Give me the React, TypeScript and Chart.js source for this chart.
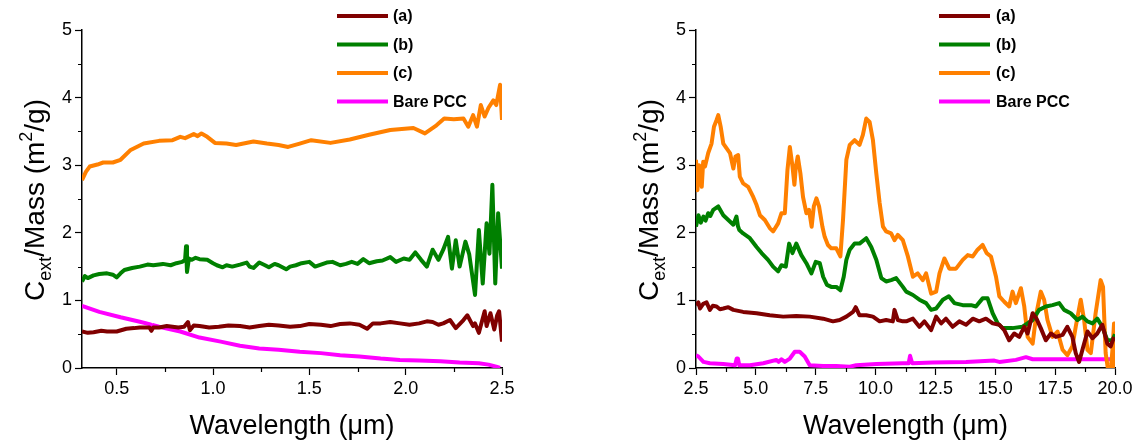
import React, { useEffect, useRef } from "react";
import { Chart, registerables } from "chart.js";

Chart.register(...registerables);

type Pt = [number, number];

// ---------- Left panel (0.32–2.5 µm) ----------
const visA: Pt[] = [[0.32,0.54],[0.35,0.52],[0.38,0.53],[0.42,0.55],[0.45,0.54],[0.50,0.54],[0.55,0.58],[0.59,0.59],[0.62,0.60],[0.67,0.60],[0.68,0.55],[0.69,0.60],[0.72,0.60],[0.76,0.62],[0.79,0.61],[0.82,0.60],[0.85,0.61],[0.87,0.68],[0.88,0.56],[0.90,0.63],[0.93,0.62],[0.98,0.60],[1.03,0.61],[1.08,0.63],[1.14,0.62],[1.19,0.60],[1.24,0.62],[1.29,0.64],[1.34,0.63],[1.40,0.61],[1.45,0.62],[1.50,0.65],[1.56,0.64],[1.61,0.62],[1.66,0.65],[1.71,0.66],[1.76,0.64],[1.80,0.58],[1.83,0.66],[1.87,0.66],[1.92,0.68],[1.97,0.66],[2.02,0.64],[2.07,0.66],[2.11,0.69],[2.14,0.68],[2.17,0.64],[2.195,0.66],[2.23,0.71],[2.26,0.59],[2.30,0.71],[2.32,0.78],[2.35,0.62],[2.36,0.66],[2.38,0.52],[2.41,0.84],[2.42,0.62],[2.44,0.81],[2.46,0.57],[2.475,0.78],[2.485,0.84],[2.50,0.39]];
const visB: Pt[] = [[0.32,1.28],[0.335,1.36],[0.35,1.33],[0.38,1.37],[0.41,1.39],[0.45,1.40],[0.48,1.38],[0.50,1.34],[0.52,1.40],[0.54,1.45],[0.58,1.48],[0.62,1.50],[0.66,1.53],[0.69,1.52],[0.74,1.54],[0.78,1.52],[0.81,1.55],[0.84,1.57],[0.855,1.60],[0.86,1.80],[0.865,1.42],[0.875,1.62],[0.89,1.60],[0.91,1.63],[0.93,1.61],[0.97,1.60],[1.00,1.55],[1.02,1.52],[1.05,1.49],[1.07,1.52],[1.10,1.50],[1.14,1.53],[1.175,1.56],[1.19,1.50],[1.21,1.48],[1.24,1.56],[1.27,1.52],[1.29,1.49],[1.32,1.54],[1.34,1.52],[1.38,1.46],[1.40,1.50],[1.43,1.52],[1.46,1.55],[1.50,1.57],[1.53,1.50],[1.56,1.53],[1.59,1.56],[1.62,1.57],[1.66,1.52],[1.69,1.54],[1.72,1.57],[1.75,1.54],[1.78,1.61],[1.81,1.55],[1.85,1.58],[1.88,1.59],[1.92,1.64],[1.95,1.57],[1.99,1.62],[2.02,1.60],[2.05,1.71],[2.08,1.60],[2.11,1.50],[2.14,1.75],[2.17,1.60],[2.195,1.75],[2.22,1.94],[2.24,1.47],[2.26,1.89],[2.28,1.50],[2.31,1.87],[2.33,1.68],[2.36,1.08],[2.38,2.04],[2.40,1.25],[2.42,2.14],[2.435,1.69],[2.45,2.71],[2.465,1.25],[2.48,2.29],[2.50,1.47]];
const visC: Pt[] = [[0.32,2.78],[0.34,2.90],[0.36,2.98],[0.40,3.01],[0.43,3.04],[0.48,3.04],[0.52,3.08],[0.57,3.22],[0.64,3.32],[0.72,3.36],[0.79,3.37],[0.83,3.42],[0.855,3.40],[0.90,3.46],[0.92,3.43],[0.94,3.47],[0.97,3.42],[1.01,3.33],[1.07,3.32],[1.12,3.30],[1.21,3.35],[1.28,3.32],[1.34,3.30],[1.39,3.27],[1.45,3.32],[1.51,3.37],[1.61,3.33],[1.71,3.38],[1.81,3.45],[1.92,3.52],[2.04,3.55],[2.10,3.47],[2.16,3.59],[2.20,3.69],[2.25,3.68],[2.30,3.69],[2.325,3.57],[2.35,3.74],[2.37,3.57],[2.39,3.89],[2.41,3.72],[2.43,3.85],[2.455,3.96],[2.47,3.89],[2.49,4.19],[2.50,3.67]];
const visP: Pt[] = [[0.32,0.92],[0.41,0.83],[0.52,0.75],[0.62,0.685],[0.675,0.645],[0.68,0.62],[0.69,0.635],[0.72,0.61],[0.83,0.54],[0.93,0.45],[1.04,0.39],[1.14,0.33],[1.24,0.29],[1.34,0.27],[1.45,0.24],[1.56,0.22],[1.66,0.19],[1.76,0.17],[1.87,0.14],[1.97,0.12],[2.07,0.11],[2.18,0.10],[2.28,0.08],[2.38,0.07],[2.43,0.05],[2.47,0.02],[2.49,0.00]];

// ---------- Right panel (2.5–20 µm) ----------
const irA: Pt[] = [[2.5,0.93],[2.6,0.97],[2.67,0.88],[2.8,0.95],[2.94,0.97],[3.08,0.86],[3.2,0.92],[3.36,0.91],[3.5,0.87],[3.64,0.88],[3.85,0.9],[4.06,0.86],[4.47,0.83],[5.03,0.81],[5.58,0.78],[6.14,0.76],[6.69,0.77],[7.25,0.76],[7.81,0.73],[8.22,0.69],[8.5,0.71],[8.78,0.76],[9.06,0.83],[9.17,0.90],[9.33,0.78],[9.61,0.78],[9.89,0.76],[10.17,0.69],[10.44,0.71],[10.72,0.69],[10.79,0.86],[10.93,0.71],[11.14,0.69],[11.28,0.69],[11.56,0.73],[11.83,0.61],[12.04,0.69],[12.32,0.56],[12.53,0.76],[12.74,0.66],[12.94,0.73],[13.22,0.61],[13.5,0.69],[13.78,0.64],[14.06,0.73],[14.33,0.69],[14.61,0.73],[14.89,0.66],[15.17,0.64],[15.375,0.56],[15.58,0.41],[15.79,0.51],[16.0,0.46],[16.21,0.61],[16.35,0.51],[16.56,0.81],[16.72,0.73],[16.90,0.59],[17.11,0.41],[17.32,0.51],[17.53,0.46],[17.81,0.49],[18.01,0.61],[18.22,0.46],[18.36,0.22],[18.5,0.09],[18.64,0.27],[18.85,0.54],[19.06,0.44],[19.26,0.51],[19.47,0.64],[19.68,0.36],[19.82,0.32],[19.96,0.46]];
const irB: Pt[] = [[2.5,2.09],[2.6,2.26],[2.7,2.15],[2.81,2.24],[2.9,2.18],[3.01,2.29],[3.1,2.25],[3.22,2.34],[3.43,2.39],[3.64,2.26],[3.85,2.19],[4.06,2.12],[4.19,2.24],[4.25,2.10],[4.31,2.04],[4.47,1.99],[4.75,1.92],[5.03,1.79],[5.24,1.70],[5.51,1.60],[5.72,1.50],[5.93,1.43],[6.07,1.52],[6.25,1.50],[6.39,1.84],[6.53,1.70],[6.69,1.84],[6.90,1.67],[7.11,1.55],[7.32,1.40],[7.50,1.57],[7.67,1.55],[7.81,1.35],[7.97,1.23],[8.15,1.20],[8.36,1.20],[8.53,1.15],[8.67,1.35],[8.78,1.60],[8.92,1.75],[9.125,1.84],[9.33,1.84],[9.61,1.92],[9.82,1.79],[10.03,1.60],[10.24,1.33],[10.44,1.28],[10.65,1.30],[10.86,1.33],[11.14,1.20],[11.28,1.13],[11.56,1.08],[11.83,1.01],[12.11,0.96],[12.32,0.86],[12.53,0.88],[12.81,1.01],[13.06,1.06],[13.29,0.96],[13.64,0.93],[13.99,0.93],[14.19,0.91],[14.47,1.03],[14.68,1.03],[14.89,0.81],[15.10,0.66],[15.31,0.59],[15.72,0.59],[16.14,0.61],[16.56,0.71],[16.83,0.86],[17.11,0.91],[17.39,0.93],[17.67,0.96],[17.875,0.86],[18.15,0.81],[18.43,0.71],[18.64,0.76],[18.85,0.69],[19.06,0.66],[19.26,0.73],[19.47,0.61],[19.68,0.41],[19.89,0.41],[20.0,0.5]];
const irC: Pt[] = [[2.5,3.08],[2.56,2.63],[2.62,3.0],[2.67,2.98],[2.74,2.68],[2.8,3.05],[2.875,2.98],[3.01,3.18],[3.15,3.32],[3.25,3.57],[3.36,3.67],[3.43,3.74],[3.53,3.57],[3.64,3.32],[3.78,3.25],[3.92,3.18],[4.06,2.95],[4.15,3.13],[4.26,3.15],[4.33,2.83],[4.47,2.73],[4.68,2.68],[4.89,2.53],[5.03,2.41],[5.17,2.26],[5.375,2.19],[5.58,2.07],[5.72,2.02],[5.93,2.14],[6.07,2.29],[6.21,2.29],[6.32,2.93],[6.42,3.27],[6.53,2.98],[6.61,2.71],[6.67,2.98],[6.75,3.13],[6.86,2.88],[6.97,2.53],[7.11,2.29],[7.22,2.34],[7.33,2.09],[7.42,2.39],[7.53,2.51],[7.64,2.39],[7.78,2.09],[7.875,1.94],[8.01,1.82],[8.15,1.77],[8.36,1.77],[8.53,1.65],[8.64,2.19],[8.78,3.08],[8.92,3.30],[9.125,3.37],[9.33,3.30],[9.47,3.45],[9.61,3.69],[9.75,3.64],[9.89,3.37],[10.03,2.88],[10.17,2.44],[10.31,2.09],[10.44,2.02],[10.65,1.99],[10.79,1.89],[10.93,1.97],[11.14,1.89],[11.35,1.65],[11.56,1.35],[11.76,1.40],[11.97,1.30],[12.11,1.40],[12.32,1.10],[12.53,1.13],[12.67,1.40],[12.875,1.62],[13.08,1.47],[13.36,1.47],[13.64,1.60],[13.85,1.67],[14.06,1.65],[14.26,1.75],[14.47,1.82],[14.64,1.70],[14.82,1.65],[15.03,1.35],[15.17,1.06],[15.375,0.98],[15.58,0.91],[15.72,1.13],[15.86,0.96],[16.07,1.18],[16.21,0.91],[16.35,0.46],[16.56,0.36],[16.72,0.81],[16.90,1.13],[17.04,1.01],[17.18,0.71],[17.39,0.46],[17.60,0.54],[17.81,0.27],[18.01,0.19],[18.22,0.32],[18.36,0.61],[18.57,1.01],[18.71,0.71],[18.85,0.27],[18.99,0.22],[19.19,0.81],[19.40,1.30],[19.5,1.20],[19.61,0.22],[19.72,-0.05],[19.82,-0.05],[19.9,0.3],[19.96,0.66],[20.0,0.0]];
const irP: Pt[] = [[2.5,0.19],[2.6,0.17],[2.81,0.09],[3.08,0.07],[3.64,0.06],[4.13,0.04],[4.2,0.14],[4.25,0.14],[4.31,0.04],[4.75,0.04],[5.31,0.07],[5.86,0.12],[5.95,0.09],[6.07,0.13],[6.21,0.09],[6.42,0.14],[6.625,0.24],[6.83,0.24],[7.04,0.17],[7.25,0.04],[7.81,0.03],[8.36,0.03],[8.92,0.02],[9.19,0.04],[10.03,0.06],[11.14,0.07],[11.38,0.07],[11.44,0.18],[11.53,0.07],[12.39,0.08],[13.78,0.09],[14.96,0.11],[15.17,0.09],[15.86,0.12],[16.28,0.16],[16.56,0.13],[17.94,0.13],[19.33,0.13],[20.0,0.13]];

// ---------- Labels & ticks ----------
const seriesLabels = ["(a)", "(b)", "(c)", "Bare PCC"];
const yTicks = [0, 1, 2, 3, 4, 5];
const yMinor = [0.5, 1.5, 2.5, 3.5, 4.5];
const visXTicks = [0.5, 1.0, 1.5, 2.0, 2.5];
const visXMinor = [0.75, 1.25, 1.75, 2.25];
const irXTicks = [2.5, 5.0, 7.5, 10.0, 12.5, 15.0, 17.5, 20.0];
const irXMinor = [3.75, 6.25, 8.75, 11.25, 13.75, 16.25, 18.75];
const xTitle = "Wavelength (\u03bcm)";

const COLORS = ["#800000", "#008000", "#FF8000", "#FF00FF"];
const FONT = "'Liberation Sans', Arial, Helvetica, sans-serif";

interface PanelCfg {
  left: number;
  width: number;
  yAxisW: number;
  padRight: number;
  xMin: number;
  xMax: number;
  xTicks: number[];
  xMinor: number[];
  series: Pt[][];
  legendX1: number;
  legendX2: number;
  legendTX: number;
  yTitleX: number;
}

function makeDecor(cfg: PanelCfg) {
  return {
    id: "decor",
    afterDraw(chart: any) {
      const ctx: CanvasRenderingContext2D = chart.ctx;
      const area = chart.chartArea;
      const xs = chart.scales.x;
      const ys = chart.scales.y;
      ctx.save();
      // minor ticks
      ctx.strokeStyle = "#000";
      ctx.lineWidth = 1.2;
      ctx.beginPath();
      cfg.xMinor.forEach((v) => {
        const px = Math.round(xs.getPixelForValue(v)) + 0.5;
        ctx.moveTo(px, area.bottom);
        ctx.lineTo(px, area.bottom + 4);
      });
      yMinor.forEach((v) => {
        const py = Math.round(ys.getPixelForValue(v)) + 0.5;
        ctx.moveTo(area.left - 4, py);
        ctx.lineTo(area.left, py);
      });
      ctx.stroke();

      // x title
      ctx.fillStyle = "#000";
      ctx.font = `27px ${FONT}`;
      ctx.textAlign = "center";
      ctx.textBaseline = "alphabetic";
      ctx.fillText(xTitle, (area.left + area.right) / 2, 434);

      // y title with sub/superscripts
      const parts = [
        { t: "C", s: 28, dy: 0 },
        { t: "ext", s: 18, dy: 7 },
        { t: "/Mass (m", s: 28, dy: 0 },
        { t: "2", s: 18, dy: -12 },
        { t: "/g)", s: 28, dy: 0 },
      ];
      ctx.textAlign = "left";
      let total = 0;
      parts.forEach((p) => {
        ctx.font = `${p.s}px ${FONT}`;
        total += ctx.measureText(p.t).width;
      });
      ctx.translate(cfg.yTitleX, 200);
      ctx.rotate(-Math.PI / 2);
      let x = -total / 2;
      parts.forEach((p) => {
        ctx.font = `${p.s}px ${FONT}`;
        ctx.fillText(p.t, x, p.dy);
        x += ctx.measureText(p.t).width;
      });
      ctx.setTransform(1, 0, 0, 1, 0, 0);

      // legend
      const rows = [16, 44.5, 73, 101.5];
      ctx.font = `bold 16px ${FONT}`;
      ctx.textBaseline = "middle";
      chart.data.datasets.forEach((ds: any, i: number) => {
        ctx.strokeStyle = ds.borderColor;
        ctx.lineWidth = 4;
        ctx.beginPath();
        ctx.moveTo(cfg.legendX1, rows[i]);
        ctx.lineTo(cfg.legendX2, rows[i]);
        ctx.stroke();
        ctx.fillStyle = "#000";
        ctx.fillText(ds.label, cfg.legendTX, rows[i] + 1);
      });
      ctx.restore();
    },
  };
}

function Panel({ cfg }: { cfg: PanelCfg }) {
  const ref = useRef<HTMLCanvasElement>(null);
  useEffect(() => {
    const canvas = ref.current;
    if (!canvas) return;
    const chart = new Chart(canvas, {
      type: "line",
      data: {
        datasets: cfg.series.map((pts, i) => ({
          label: seriesLabels[i],
          data: pts.map(([x, y]) => ({ x, y })),
          borderColor: COLORS[i],
          backgroundColor: COLORS[i],
          borderWidth: 4,
          pointRadius: 0,
          tension: 0,
          fill: false,
          borderJoinStyle: "round" as const,
        })),
      },
      options: {
        animation: false,
        responsive: false,
        layout: { padding: { left: 0, right: cfg.padRight, top: 30, bottom: 0 } },
        plugins: { legend: { display: false }, tooltip: { enabled: false } },
        scales: {
          x: {
            type: "linear",
            min: cfg.xMin,
            max: cfg.xMax,
            afterFit: (s: any) => {
              s.height = 72;
            },
            afterBuildTicks: (s: any) => {
              s.ticks = cfg.xTicks.map((v) => ({ value: v }));
            },
            ticks: {
              callback: (v: any) => Number(v).toFixed(1),
              font: { family: FONT, size: 18 },
              color: "#000",
              padding: 3,
              maxRotation: 0,
              autoSkip: false,
            },
            grid: {
              drawOnChartArea: false,
              drawTicks: true,
              tickLength: 7,
              tickColor: "#000",
              tickWidth: 1.2,
            },
            border: { color: "#000", width: 1.5 },
          },
          y: {
            type: "linear",
            min: 0,
            max: 5,
            afterFit: (s: any) => {
              s.width = cfg.yAxisW;
            },
            afterBuildTicks: (s: any) => {
              s.ticks = yTicks.map((v) => ({ value: v }));
            },
            ticks: {
              callback: (v: any) => String(v),
              font: { family: FONT, size: 18 },
              color: "#000",
              padding: 3,
              autoSkip: false,
            },
            grid: {
              drawOnChartArea: false,
              drawTicks: true,
              tickLength: 7,
              tickColor: "#000",
              tickWidth: 1.2,
            },
            border: { color: "#000", width: 1.5 },
          },
        },
      },
      plugins: [makeDecor(cfg)],
    });
    return () => chart.destroy();
  }, [cfg]);
  return (
    <div style={{ position: "absolute", left: cfg.left, top: 0, width: cfg.width, height: 440 }}>
      <canvas ref={ref} width={cfg.width} height={440} style={{ display: "block" }} />
    </div>
  );
}

const leftCfg: PanelCfg = {
  left: 0,
  width: 560,
  yAxisW: 82,
  padRight: 58,
  xMin: 0.32,
  xMax: 2.5,
  xTicks: visXTicks,
  xMinor: visXMinor,
  series: [visA, visB, visC, visP],
  legendX1: 337,
  legendX2: 388,
  legendTX: 393,
  yTitleX: 44,
};

const rightCfg: PanelCfg = {
  left: 568,
  width: 568,
  yAxisW: 128,
  padRight: 21,
  xMin: 2.5,
  xMax: 20,
  xTicks: irXTicks,
  xMinor: irXMinor,
  series: [irA, irB, irC, irP],
  legendX1: 939 - 568,
  legendX2: 990 - 568,
  legendTX: 996 - 568,
  yTitleX: 658 - 568,
};

export default function App() {
  return (
    <div style={{ position: "absolute", left: 0, top: 0, width: 1136, height: 440, background: "#fff", overflow: "hidden" }}>
      <Panel cfg={leftCfg} />
      <Panel cfg={rightCfg} />
    </div>
  );
}
